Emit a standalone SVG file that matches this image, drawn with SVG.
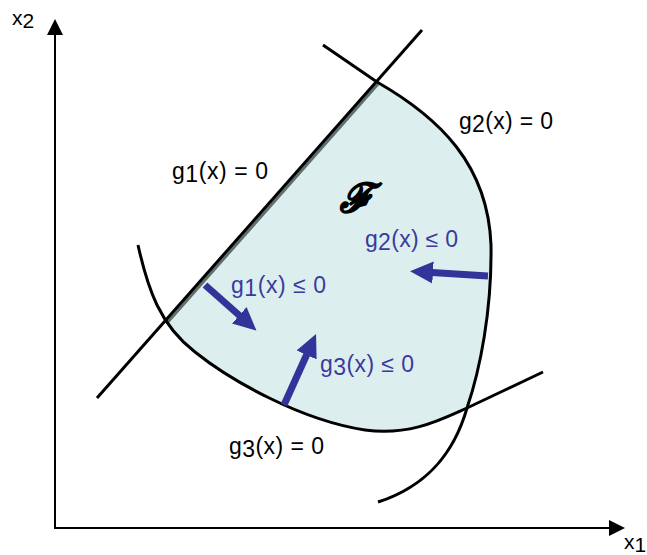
<svg xmlns="http://www.w3.org/2000/svg" width="647" height="555" viewBox="0 0 647 555">
<style>
.curve{fill:none;stroke:#000;stroke-width:3;stroke-linecap:butt}
.axis{fill:none;stroke:#000;stroke-width:2}
.lbl{font-family:"Liberation Sans",Arial,sans-serif;font-size:23px;fill:#000}
.blbl{font-family:"Liberation Sans",Arial,sans-serif;font-size:23px;fill:#3a3a9e}
.ax{font-family:"Liberation Sans",Arial,sans-serif;font-size:21px;fill:#000}
.arr{fill:none;stroke:#333399;stroke-width:7}
</style>
<defs>
<marker id="ah" markerUnits="userSpaceOnUse" markerWidth="24" markerHeight="24" viewBox="0 0 24 24" refX="1" refY="12" orient="auto">
<path d="M0,1 L23,12 L0,23 z" fill="#333399"/>
</marker>
<marker id="axh" markerUnits="userSpaceOnUse" markerWidth="18" markerHeight="18" viewBox="0 0 18 18" refX="0" refY="9" orient="auto">
<path d="M0,1 L16,9 L0,17 z" fill="#000"/>
</marker>
</defs>
<g id="region">
<path d="M165,322 L377,82 C440,118 488,165 491,245 C492,310 480,370 467,408 C440,420 410,436 365,430 C300,420 230,380 195,352 Q178,340 165,322 z" fill="#ddeeee"/>
<line x1="166.5" y1="323.5" x2="378" y2="84" stroke="#5f6f6f" stroke-width="3"/>
</g>
<g id="axes">
<line class="axis" x1="55" y1="529" x2="55" y2="35" marker-end="url(#axh)"/>
<line class="axis" x1="54" y1="528" x2="609" y2="528" marker-end="url(#axh)"/>
<text class="ax" x="12" y="25">x<tspan dy="3">2</tspan></text>
<text class="ax" x="624" y="549">x<tspan dy="3">1</tspan></text>
</g>
<g id="connectors">
<line class="curve" x1="97" y1="398" x2="422" y2="30"/>
<path class="curve" d="M323,45 L377,82 C440,118 488,165 491,245 C492,310 480,370 467,408 C455,450 430,485 378,502"/>
<path class="curve" d="M138,245 C148,290 160,325 195,352 C230,380 300,420 365,430 C410,436 440,420 467,408 C490,397 520,383 543,372"/>
<line class="arr" x1="205" y1="285" x2="240" y2="316" marker-end="url(#ah)"/>
<line class="arr" x1="284" y1="405" x2="307" y2="354" marker-end="url(#ah)"/>
<line class="arr" x1="488" y1="276" x2="432" y2="272.5" marker-end="url(#ah)"/>
</g>
<g id="labels">
<text class="lbl" x="172" y="179" textLength="96" lengthAdjust="spacing">g<tspan dy="3">1</tspan><tspan dy="-3">(x) = 0</tspan></text>
<text class="lbl" x="459" y="129" textLength="94" lengthAdjust="spacing">g<tspan dy="3">2</tspan><tspan dy="-3">(x) = 0</tspan></text>
<text class="lbl" x="229" y="454" textLength="95" lengthAdjust="spacing">g<tspan dy="3">3</tspan><tspan dy="-3">(x) = 0</tspan></text>
<text class="blbl" x="231" y="293" textLength="95" lengthAdjust="spacing">g<tspan dy="3">1</tspan><tspan dy="-3">(x) ≤ 0</tspan></text>
<text class="blbl" x="320" y="372" textLength="94" lengthAdjust="spacing">g<tspan dy="3">3</tspan><tspan dy="-3">(x) ≤ 0</tspan></text>
<text class="blbl" x="365" y="247" textLength="93" lengthAdjust="spacing">g<tspan dy="3">2</tspan><tspan dy="-3">(x) ≤ 0</tspan></text>
<text x="340" y="212" font-family="DejaVu Serif,serif" font-size="40" font-style="italic" font-weight="bold" fill="#000" stroke="#000" stroke-width="1.2">ℱ</text>
</g>
</svg>
